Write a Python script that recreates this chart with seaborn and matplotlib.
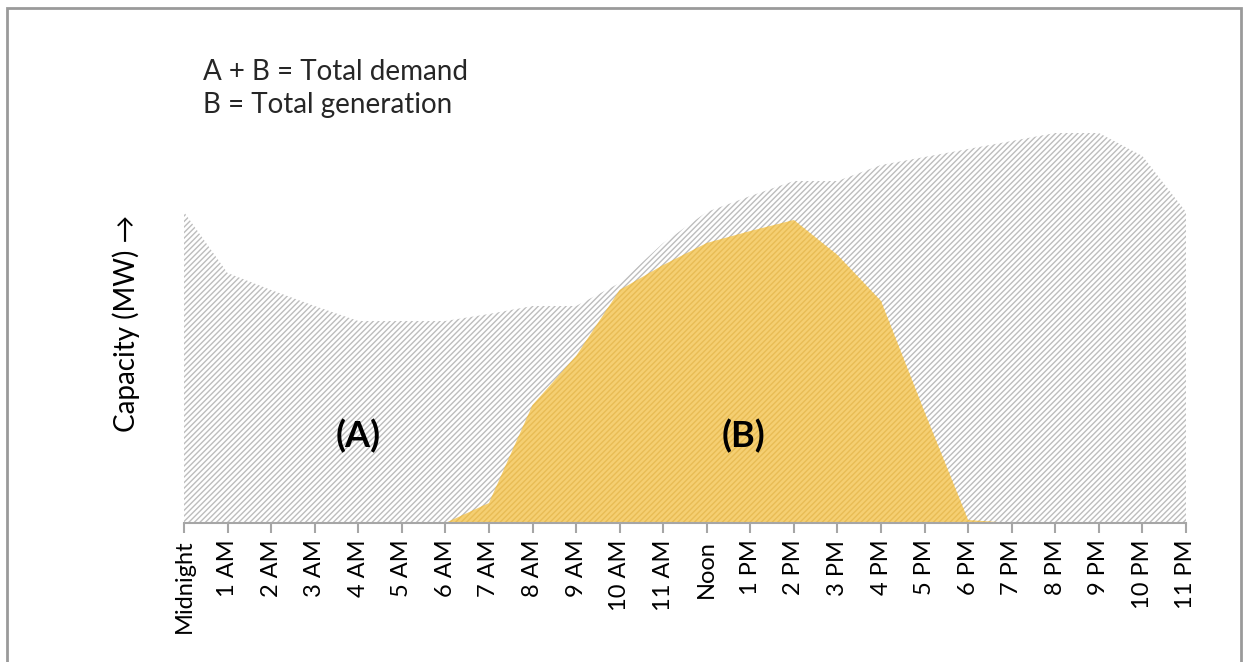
import matplotlib
matplotlib.use("Agg")
import matplotlib.pyplot as plt
import seaborn as sns
import pandas as pd
from matplotlib.patches import Rectangle

hours = list(range(24))
hour_labels = ["Midnight", "1 AM", "2 AM", "3 AM", "4 AM", "5 AM", "6 AM", "7 AM",
               "8 AM", "9 AM", "10 AM", "11 AM", "Noon", "1 PM", "2 PM", "3 PM",
               "4 PM", "5 PM", "6 PM", "7 PM", "8 PM", "9 PM", "10 PM", "11 PM"]
demand = [311, 250, 233, 217, 202, 202, 202, 209, 217, 217, 240, 280,
          311, 327, 342, 342, 358, 366, 374, 382, 390, 390, 367, 311]
generation = [0, 0, 0, 0, 0, 0, 0, 20, 118, 167, 233, 258,
              280, 292, 303, 268, 222, 111, 3, 0, 0, 0, 0, 0]

df = pd.DataFrame({"hour": hours, "demand": demand, "generation": generation})

sns.set_theme(style="white")
plt.rcParams["font.family"] = ["Lato", "DejaVu Sans"]
plt.rcParams["hatch.linewidth"] = 1.0

W, H = 1244, 662
fig = plt.figure(figsize=(W / 100, H / 100), dpi=100)
ax = fig.add_axes([184 / W, (H - 523) / H, (1186 - 184) / W, 400 / H])

sns.lineplot(data=df, x="hour", y="demand", ax=ax, linewidth=0, color="#cccccc")
sns.lineplot(data=df, x="hour", y="generation", ax=ax, linewidth=0, color="#f2cc6f")

ax.fill_between(df["hour"], 0, df["demand"], facecolor="white",
                edgecolor="#bdbdbd", hatch="//////", linewidth=0)
ax.fill_between(df["hour"], 0, df["generation"], facecolor="#F5CF72",
                edgecolor="#E8BC55", hatch="//////", linewidth=0)

ax.set_xlim(0, 23)
ax.set_ylim(0, 400)
ax.set_xticks(hours)
ax.set_xticklabels(hour_labels, rotation=90, fontsize=17, color="black")
ax.set_yticks([])
ax.set_xlabel("")
ax.set_ylabel("Capacity (MW) \u2192", fontsize=20, color="black", labelpad=32)
for s in ["top", "right", "left"]:
    ax.spines[s].set_visible(False)
ax.spines["bottom"].set_color("#a6a6a6")
ax.spines["bottom"].set_linewidth(1.5)
ax.tick_params(axis="x", bottom=True, length=7, width=1.5, color="#a6a6a6", pad=5)

ax.text(4.0, 87, "(A)", fontsize=26, fontweight="bold", ha="center", va="center", color="black")
ax.text(12.85, 87, "(B)", fontsize=26, fontweight="bold", ha="center", va="center", color="black")

fig.text(203 / W, 1 - 72 / H, "A + B = Total demand", fontsize=20, va="center", ha="left")
fig.text(203 / W, 1 - 105 / H, "B = Total generation", fontsize=20, va="center", ha="left")

fig.patches.append(Rectangle((7.5 / W, -0.05), (1241 - 7.5) / W, 1.05 - 7.5 / H,
                             transform=fig.transFigure, fill=False,
                             edgecolor="#9a9a9a", linewidth=2))

fig.savefig("out.png", dpi=100)
